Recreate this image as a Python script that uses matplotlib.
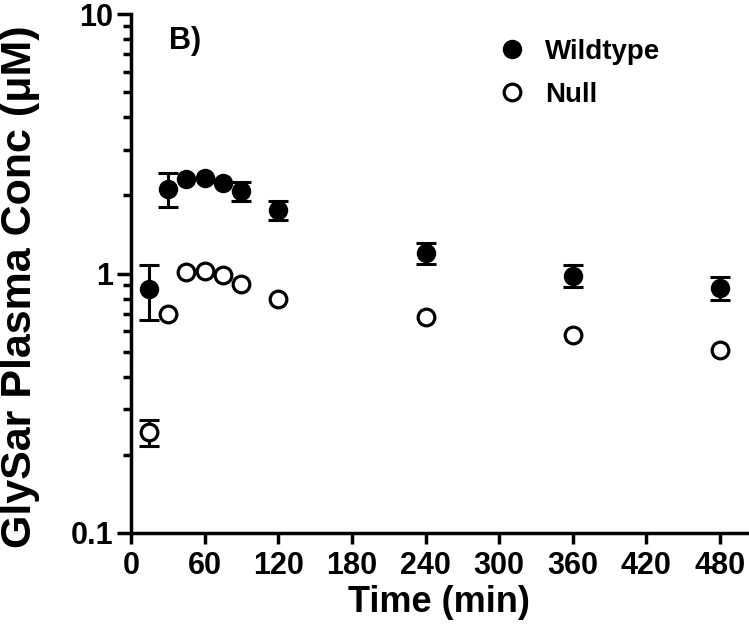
import matplotlib
matplotlib.use("Agg")
import matplotlib.pyplot as plt
import numpy as np
from matplotlib.lines import Line2D
from matplotlib.ticker import LogLocator, FixedLocator, FixedFormatter

# Data (0 = error bar hidden behind the symbol)
time = [15, 30, 45, 60, 75, 90, 120, 240, 360, 480]
wildtype = [0.87, 2.12, 2.31, 2.34, 2.23, 2.08, 1.75, 1.20, 0.98, 0.88]
wildtype_err = [0.21, 0.32, 0, 0, 0, 0.17, 0.145, 0.115, 0.095, 0.09]
null = [0.244, 0.70, 1.01, 1.02, 0.99, 0.915, 0.80, 0.678, 0.58, 0.507]
null_err = [0.028, 0, 0, 0, 0, 0, 0, 0, 0, 0]

x_ticks = [0, 60, 120, 180, 240, 300, 360, 420, 480]
y_ticks = [0.1, 1, 10]
y_tick_labels = ["0.1", "1", "10"]

plt.rcParams["font.family"] = ["Liberation Sans", "DejaVu Sans"]
plt.rcParams["font.weight"] = "bold"

fig = plt.figure(figsize=(7.49, 6.35), dpi=100)
ax = fig.add_axes([131 / 749, 1 - 533 / 635, 616 / 749, 519 / 635])


def draw_errors(x, y, err):
    x, y, err = np.array(x), np.array(y), np.array(err)
    keep = err > 0
    ax.errorbar(x[keep], y[keep], yerr=err[keep], fmt="none", ecolor="black",
                elinewidth=2.2, capsize=7, capthick=2.2, zorder=2)


draw_errors(time, wildtype, wildtype_err)
draw_errors(time, null, null_err)
ax.plot(time, wildtype, "o", color="black", ms=14, mew=0, zorder=3)
ax.plot(time, null, "o", mfc="white", mec="black", ms=12, mew=2.3, zorder=3)

ax.set_yscale("log")
ax.set_xlim(0, 502)
ax.set_ylim(0.1, 10)

for side in ["top", "right"]:
    ax.spines[side].set_visible(False)
for side in ["left", "bottom"]:
    ax.spines[side].set_linewidth(2.5)

ax.xaxis.set_major_locator(FixedLocator(x_ticks))
ax.yaxis.set_major_locator(FixedLocator(y_ticks))
ax.yaxis.set_major_formatter(FixedFormatter(y_tick_labels))
ax.yaxis.set_minor_locator(LogLocator(base=10, subs=range(2, 10)))
ax.yaxis.set_minor_formatter(plt.NullFormatter())
ax.tick_params(axis="x", which="major", length=8, width=2.5, pad=5, labelsize=22)
ax.tick_params(axis="y", which="major", length=10, width=2.5, pad=3, labelsize=22)
ax.tick_params(axis="y", which="minor", length=6, width=2.5)

ax.set_xlabel("Time (min)", fontsize=26, fontweight="bold")
ax.xaxis.set_label_coords(0.5, -0.1)
ax.set_ylabel("GlySar Plasma Conc (\u03bcM)", fontsize=31, fontweight="bold",
              va="center")
ax.yaxis.set_label_coords(-0.18, 0.474)

ax.text(0.0877, 0.948, "B)", transform=ax.transAxes, fontsize=22,
        fontweight="bold", ha="center", va="center")

handles = [
    Line2D([], [], marker="o", ls="none", color="black", ms=14, mew=0),
    Line2D([], [], marker="o", ls="none", mfc="white", mec="black", ms=12, mew=2.3),
]
ax.legend(handles, ["Wildtype", "Null"], loc="upper left",
          bbox_to_anchor=(0.6006, 0.952), frameon=False, fontsize=20,
          handlelength=0.8, handletextpad=0.8, labelspacing=0.6,
          borderpad=0, borderaxespad=0)

fig.savefig("out.png", dpi=100)
